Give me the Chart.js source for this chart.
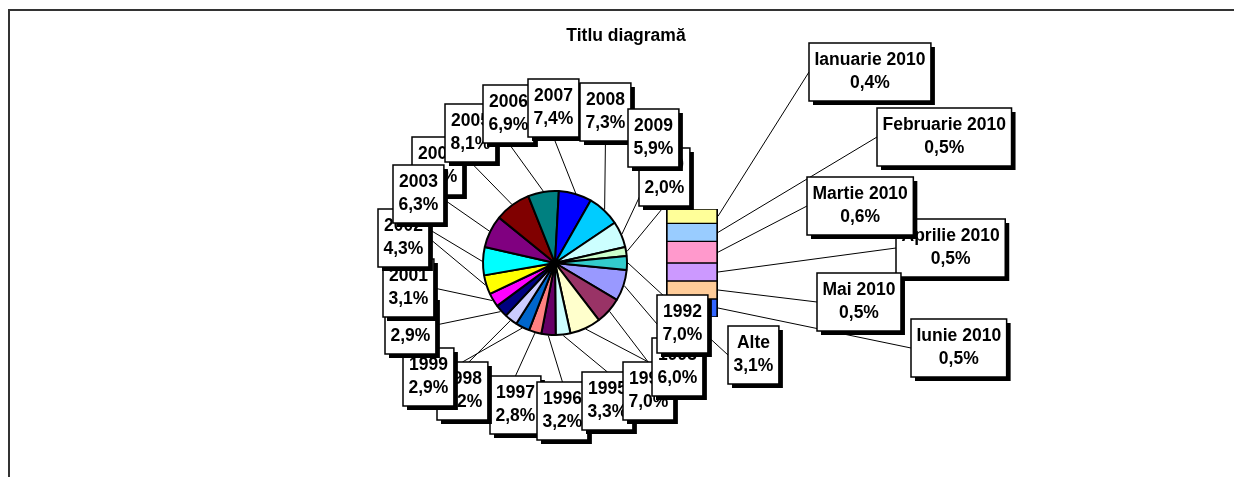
<!DOCTYPE html>
<html>
<head>
<meta charset="utf-8">
<script src="https://cdn.jsdelivr.net/npm/chart.js@4.4.0/dist/chart.umd.min.js"></script>
<style>
  html, body { margin: 0; padding: 0; background: #fff; overflow: hidden; }
  #wrap { position: relative; width: 1234px; height: 477px; }
  #wrap canvas { position: absolute; left: 0; top: 0; }
  #frame { position: absolute; left: 8px; top: 9px; width: 1240px; height: 480px;
           border-top: 2px solid #333; border-left: 2px solid #333; }
</style>
</head>
<body>
<div id="wrap">
  <div id="frame"></div>
  <canvas id="pieChart" width="1234" height="477"></canvas>
  <canvas id="barChart" width="1234" height="477"></canvas>
</div>
<script>
// pie: years, last slice "Alte" is split into the bar of months
const years = ['1992', '1993', '1994', '1995', '1996', '1997', '1998', '1999', '2000', '2001',
               '2002', '2003', '2004', '2005', '2006', '2007', '2008', '2009', '2010', 'Alte']
const yearShares = [7.0, 6.0, 7.0, 3.3, 3.2, 2.8, 3.2, 2.9, 2.9, 3.1,
                    4.3, 6.3, 7.3, 8.1, 6.9, 7.4, 7.3, 5.9, 2.0, 3.1]
const months = ['Ianuarie 2010', 'Februarie 2010', 'Martie 2010', 'Aprilie 2010', 'Mai 2010', 'Iunie 2010']
const monthShares = [0.4, 0.5, 0.6, 0.5, 0.5, 0.5]

// old excel palette
const yearColors = ['#9999FF', '#993366', '#FFFFCC', '#CCFFFF', '#660066', '#FF8080', '#0066CC', '#CCCCFF',
                    '#000080', '#FF00FF', '#FFFF00', '#00FFFF', '#800080', '#800000', '#008080', '#0000FF',
                    '#00CCFF', '#CCFFFF', '#CCFFCC', '#33CCCC']
const monthColors = ['#FFFF99', '#99CCFF', '#FF99CC', '#CC99FF', '#FFCC99', '#3366FF']

// label boxes were dragged around by hand in the original, offsets from pie centre / bar top-right
const pieLabelOffsets = [[102, 32], [97, 75], [68, 99], [27, 109], [-18, 119], [-65, 113], [-118, 99],
                         [-152, 85], [-170, 33], [-172, -4], [-177, -54], [-162, -98], [-143, -126],
                         [-110, -159], [-72, -178], [-27, -184], [25, -180], [73, -154], [84, -115], [173, 63]]
const barLabelOffsets = [[91, -166], [159, -101], [89, -32], [178, 10], [99, 64], [193, 110]]
const pieDrawOrder = [5, 6, 7, 8, 9, 10, 12, 11, 13, 14, 15, 16, 18, 17, 19, 4, 3, 2, 1, 0]
const barDrawOrder = [0, 1, 3, 2, 4, 5]

const FONT = 'bold 17.5px "Liberation Sans", Arial, sans-serif'
const BOX_H = 58
const fmt = v => v.toFixed(1).replace('.', ',') + '%'

const pieChart = new Chart(document.getElementById('pieChart'), {
  type: 'pie',
  data: {
    labels: years,
    datasets: [{
      data: yearShares,
      backgroundColor: yearColors,
      borderColor: '#000',
      borderWidth: 2,
      radius: 72
    }]
  },
  options: {
    responsive: false,
    animation: false,
    // "Alte" slice centred on 3 o'clock
    rotation: 90 + yearShares[yearShares.length - 1] * 3.6 / 2,
    layout: { padding: { left: 400, right: 524, top: 110, bottom: 61 } },
    plugins: { legend: { display: false }, tooltip: { enabled: false } }
  }
})

function buildLabels(chart) {
  const ctx = chart.ctx
  ctx.font = FONT
  const out = []
  const boxW = lines => Math.max(...lines.map(t => ctx.measureText(t).width)) + 11

  pieChart.getDatasetMeta(0).data.forEach((arc, i) => {
    const p = arc.getProps(['x', 'y', 'startAngle', 'endAngle', 'outerRadius'])
    const mid = (p.startAngle + p.endAngle) / 2
    const lines = [years[i], fmt(yearShares[i])]
    out.push({
      z: pieDrawOrder.indexOf(i),
      x: p.x + pieLabelOffsets[i][0], y: p.y + pieLabelOffsets[i][1],
      w: boxW(lines), h: BOX_H, lines,
      ax: p.x + Math.cos(mid) * (p.outerRadius + 1),
      ay: p.y + Math.sin(mid) * (p.outerRadius + 1)
    })
  })

  const area = chart.chartArea
  chart.data.datasets.forEach((ds, i) => {
    const bar = chart.getDatasetMeta(i).data[0]
    const b = bar.getProps(['x', 'y', 'base', 'width'])
    const lines = [months[i], fmt(monthShares[i])]
    out.push({
      z: 100 + barDrawOrder.indexOf(i),
      x: area.right + barLabelOffsets[i][0], y: area.top + barLabelOffsets[i][1],
      w: boxW(lines), h: BOX_H, lines,
      ax: b.x + b.width / 2, ay: (b.y + b.base) / 2
    })
  })
  return out
}

// leader line goes to the nearest side midpoint of the box
function attachPoint(l) {
  const pts = [[l.x, l.y + l.h / 2], [l.x + l.w, l.y + l.h / 2], [l.x + l.w / 2, l.y], [l.x + l.w / 2, l.y + l.h]]
  let best = pts[0], bd = Infinity
  pts.forEach(p => {
    const d = Math.hypot(p[0] - l.ax, p[1] - l.ay)
    if (d < bd) { bd = d; best = p }
  })
  return best
}

const excelLabels = {
  id: 'excelLabels',
  beforeDatasetsDraw(chart) {
    const ctx = chart.ctx
    ctx.save()
    ctx.strokeStyle = '#000'
    ctx.lineWidth = 1
    buildLabels(chart).forEach(l => {
      const p = attachPoint(l)
      ctx.beginPath()
      ctx.moveTo(l.ax, l.ay)
      ctx.lineTo(p[0], p[1])
      ctx.stroke()
    })
    ctx.restore()
  },
  afterDraw(chart) {
    const ctx = chart.ctx
    ctx.save()
    const labels = buildLabels(chart).sort((a, b) => a.z - b.z)
    labels.forEach(l => {
      ctx.fillStyle = '#000'
      ctx.fillRect(l.x + 4, l.y + 4, l.w, l.h)
      ctx.fillStyle = '#fff'
      ctx.fillRect(l.x, l.y, l.w, l.h)
      ctx.strokeStyle = '#000'
      ctx.lineWidth = 1.5
      ctx.strokeRect(l.x, l.y, l.w, l.h)
      ctx.fillStyle = '#000'
      ctx.font = FONT
      ctx.textAlign = 'center'
      ctx.textBaseline = 'middle'
      const cx = l.x + l.w / 2, cy = l.y + l.h / 2
      ctx.fillText(l.lines[0], cx, cy - 11.5)
      ctx.fillText(l.lines[1], cx, cy + 11.5)
    })
    // chart title
    ctx.font = FONT
    ctx.textAlign = 'center'
    ctx.textBaseline = 'alphabetic'
    ctx.fillStyle = '#000'
    ctx.fillText('Titlu diagramă', 626, 41)
    ctx.restore()
  }
}

const monthTotal = monthShares.reduce((a, b) => a + b, 0)

new Chart(document.getElementById('barChart'), {
  type: 'bar',
  data: {
    labels: [''],
    datasets: months.map((m, i) => ({
      label: m,
      data: [monthShares[i]],
      backgroundColor: monthColors[i],
      borderColor: '#000',
      borderWidth: { left: 2, right: 2, top: 1, bottom: 1 },
      borderSkipped: false,
      barPercentage: 1,
      categoryPercentage: 1
    }))
  },
  options: {
    responsive: false,
    animation: false,
    layout: { padding: { left: 666, right: 516, top: 209, bottom: 160 } },
    scales: {
      x: { display: false, stacked: true },
      y: { display: false, stacked: true, reverse: true, min: 0, max: monthTotal }
    },
    plugins: { legend: { display: false }, tooltip: { enabled: false } }
  },
  plugins: [excelLabels]
})
</script>
</body>
</html>
